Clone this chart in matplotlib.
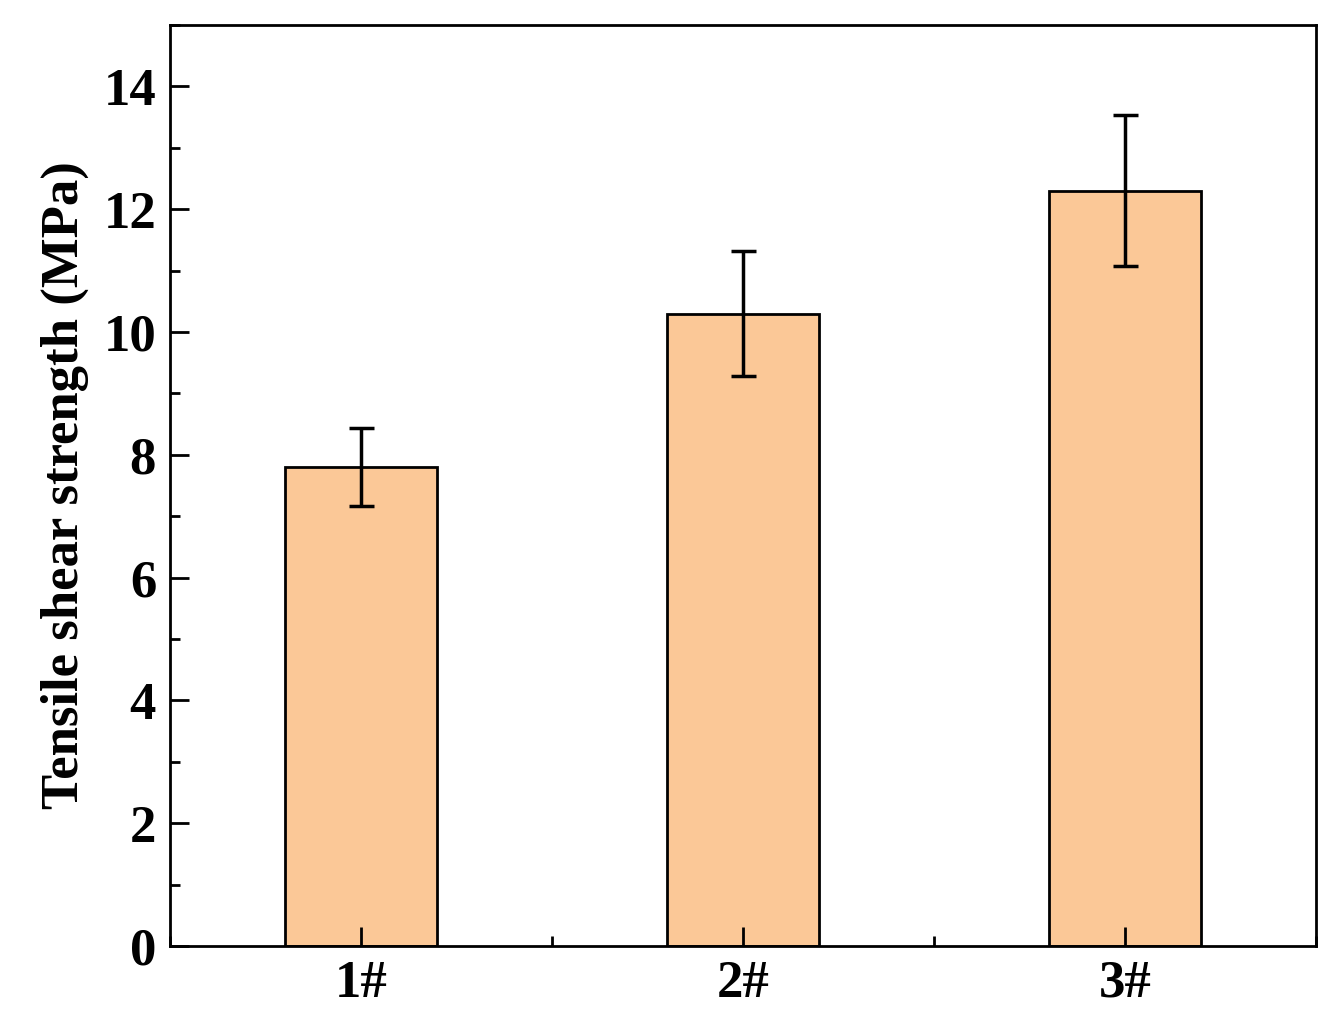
import matplotlib.pyplot as plt
from matplotlib.ticker import MultipleLocator

# data
samples = ['1#', '2#', '3#']
strength = [7.8, 10.3, 12.3]
errors = [0.63, 1.02, 1.23]

plt.rcParams['font.family'] = ['Liberation Serif', 'DejaVu Serif']
plt.rcParams['font.weight'] = 'bold'

fig = plt.figure(figsize=(13.34, 10.32), dpi=100)
ax = fig.add_axes([170 / 1334, 1 - 946 / 1032, 1146 / 1334, 921 / 1032])

pos = list(range(1, len(samples) + 1))
ax.bar(pos, strength, width=0.4, color='#fbc897', edgecolor='black', linewidth=2,
       yerr=errors, capsize=9, error_kw=dict(elinewidth=2.5, capthick=2.5, ecolor='black'))

ax.set_xlim(0.5, 3.5)
ax.set_ylim(0, 15)
ax.set_xticks(pos)
ax.set_xticklabels(samples)
ax.xaxis.set_minor_locator(MultipleLocator(0.5))
ax.yaxis.set_major_locator(MultipleLocator(2))
ax.yaxis.set_minor_locator(MultipleLocator(1))
ax.tick_params(which='both', direction='in', width=2, labelsize=38)
ax.tick_params(which='major', length=14, pad=10)
ax.tick_params(which='minor', length=7)
ax.tick_params(axis='x', which='minor', length=7)
for s in ax.spines.values():
    s.set_linewidth(2)
ax.set_ylabel('Tensile shear strength (MPa)', fontsize=38, fontweight='bold', labelpad=10)

fig.savefig('out.png', dpi=100)
